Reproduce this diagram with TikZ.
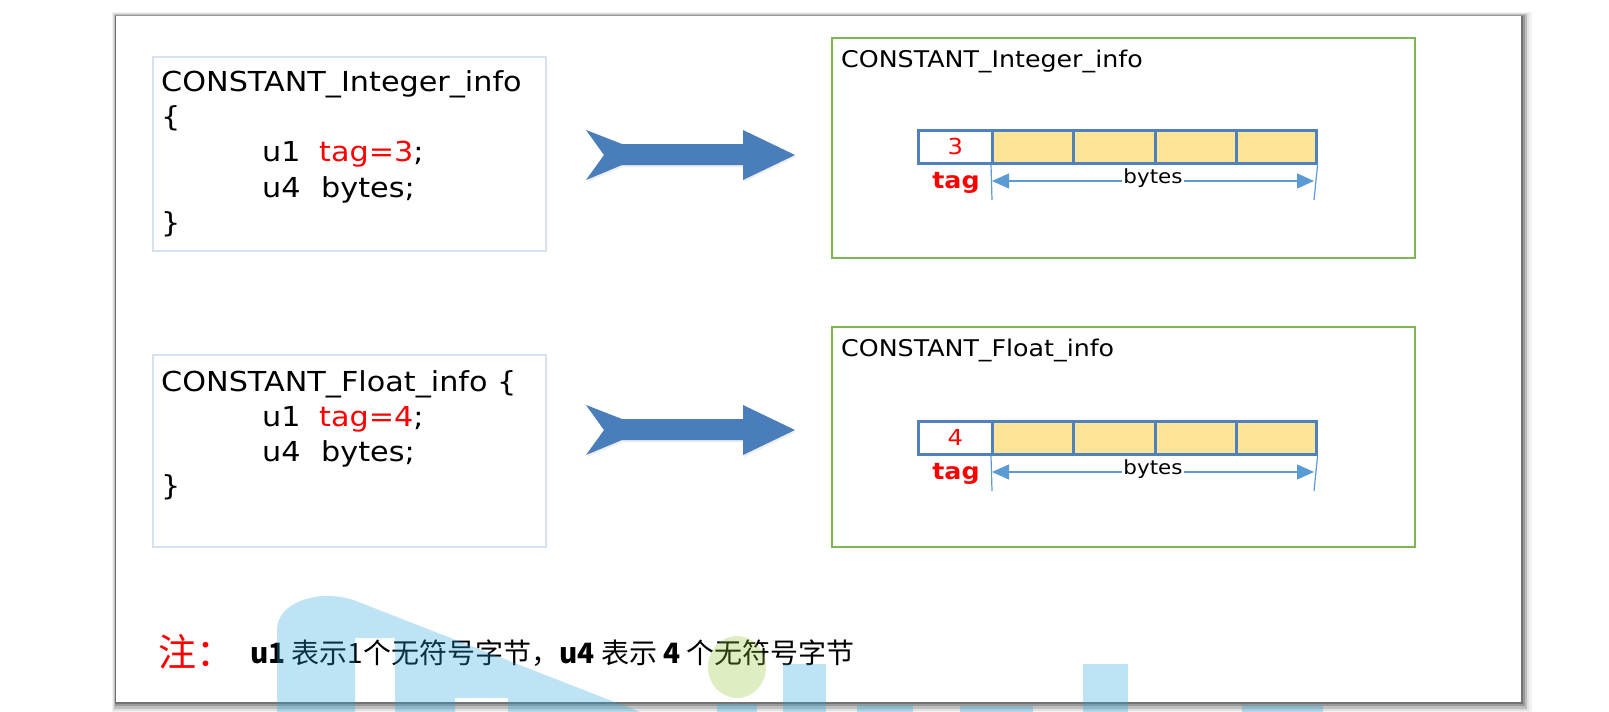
\documentclass[tikz,border=0pt]{standalone}
\usepackage{fontspec}
\setmainfont{DejaVu Sans}
\newfontfamily\codefont[FakeStretch=1.1]{DejaVu Sans}
\newfontfamily\cjkfont{Noto Sans CJK SC}
\usetikzlibrary{arrows.meta}
\definecolor{leftbd}{RGB}{214,226,240}
\definecolor{greenbd}{RGB}{125,182,82}
\definecolor{arrowblue}{RGB}{74,126,187}
\definecolor{cellbd}{RGB}{79,129,189}
\definecolor{cellfill}{RGB}{254,228,152}
\definecolor{dimblue}{RGB}{91,155,213}
\definecolor{pure}{RGB}{255,0,0}
\definecolor{wmblue}{RGB}{38,165,222}
\definecolor{wmgreen}{RGB}{152,198,58}
\tikzset{
  codebox/.style={draw=leftbd, line width=1.5pt, fill=white, anchor=north west, inner sep=0pt},
  greenbox/.style={draw=greenbd, line width=2pt, fill=white, anchor=north west, inner sep=0pt},
  code/.style={font=\codefont\fontsize{27.5}{33}\selectfont, anchor=base west, inner sep=0pt},
  title/.style={font=\codefont\fontsize{23}{28}\selectfont, anchor=base west, inner sep=0pt},
  tagcell/.style={draw=cellbd, line width=2.6pt, fill=white, minimum width=74pt, anchor=north west, inner sep=0pt, text=pure, font=\codefont\fontsize{22}{26}\selectfont},
  bytecell/.style={draw=cellbd, line width=2.6pt, fill=cellfill, anchor=north west, inner sep=0pt},
  taglabel/.style={font=\codefont\bfseries\fontsize{23}{28}\selectfont, text=pure, inner sep=0pt},
  dimline/.style={draw=dimblue, line width=1.2pt},
  dimarrow/.style={draw=dimblue, line width=1.2pt, {Triangle[length=17pt,width=15pt]}-{Triangle[length=17pt,width=15pt]}},
  byteslabel/.style={font=\codefont\fontsize{19.5}{24}\selectfont, fill=white, inner xsep=1pt, inner ysep=0pt},
  blockarrow/.style={fill=arrowblue},
}
\begin{document}
\begin{tikzpicture}[x=1pt,y=-1pt]
\useasboundingbox (0,0) rectangle (1609,712);
% outer frame with shadow
\fill[black!5] (112,12) rectangle (1532,712);
\fill[black!12] (113,13) rectangle (1529,711);
\fill[black!25] (114,14) rectangle (1527,709);
\fill[black!40] (114.5,15) rectangle (1524.5,706);
\fill[black!55] (115,15.5) rectangle (1523,704);
\fill[white] (115.5,16) rectangle (1521,702);

% ---------- left boxes ----------
\node[codebox, minimum width=393pt, minimum height=194pt] (lb1) at (152,56) {};
\node[code] (l1a) at (161,91) {CONSTANT\_Integer\_info};
\node[code] (l1b) at (161,126) {\{};
\node[code] (l1c) at (262,161) {u1};
\node[code] (l1d) at (319,161) {\textcolor{pure}{tag=3};};
\node[code] (l1e) at (262,197) {u4};
\node[code] (l1f) at (321,197) {bytes;};
\node[code] (l1g) at (161,232) {\}};

\node[codebox, minimum width=393pt, minimum height=192pt] (lb2) at (152,354) {};
\node[code] (l2a) at (161,391) {CONSTANT\_Float\_info \{};
\node[code] (l2c) at (262,426) {u1};
\node[code] (l2d) at (319,426) {\textcolor{pure}{tag=4};};
\node[code] (l2e) at (262,461) {u4};
\node[code] (l2f) at (321,461) {bytes;};
\node[code] (l2g) at (161,495) {\}};

% ---------- block arrows ----------
\foreach \dy in {0, 275}{
  \begin{scope}[yshift=-\dy pt]
    \fill[black!7] (587,131.5) -- (623,146) -- (744,146) -- (744,131.5) -- (796.5,156.5) -- (744,182) -- (744,167) -- (623,167) -- (587,182) -- (605,156.5) -- cycle;
    \fill[blockarrow] (586,130) -- (622,144) -- (743,144) -- (743,130) -- (795,155) -- (743,180) -- (743,165) -- (622,165) -- (586,180) -- (604,155) -- cycle;
  \end{scope}
}

% ---------- right boxes ----------
\node[greenbox, minimum width=583pt, minimum height=220pt] (rb1) at (831,37) {};
\node[title] (rt1) at (841,67) {CONSTANT\_Integer\_info};
\node[tagcell, minimum height=33pt] (tag1) at (917,129) {3};
\node[bytecell, minimum width=81pt, minimum height=33pt] (b11) at (991,129) {};
\node[bytecell, minimum width=82pt, minimum height=33pt] (b12) at (1072,129) {};
\node[bytecell, minimum width=81pt, minimum height=33pt] (b13) at (1154,129) {};
\node[bytecell, minimum width=80pt, minimum height=33pt] (b14) at (1235,129) {};
\node[taglabel] (tl1) at (956,183) {tag};
\coordinate (d1a) at (992,200);
\coordinate (d1b) at (1314,200);
\draw[dimline] (b11.south west) -- (d1a);
\draw[dimline] (b14.south east) -- (d1b);
\coordinate (d1l) at (992,181);
\coordinate (d1r) at (1314,181);
\draw[dimarrow] (d1l) -- (d1r);
\node[byteslabel] (by1) at (1153,178) {bytes};

\node[greenbox, minimum width=583pt, minimum height=220pt] (rb2) at (831,326) {};
\node[title] (rt2) at (841,356) {CONSTANT\_Float\_info};
\node[tagcell, minimum height=33pt] (tag2) at (917,420) {4};
\node[bytecell, minimum width=81pt, minimum height=33pt] (b21) at (991,420) {};
\node[bytecell, minimum width=82pt, minimum height=33pt] (b22) at (1072,420) {};
\node[bytecell, minimum width=81pt, minimum height=33pt] (b23) at (1154,420) {};
\node[bytecell, minimum width=80pt, minimum height=33pt] (b24) at (1235,420) {};
\node[taglabel] (tl2) at (956,474) {tag};
\coordinate (d2a) at (992,491);
\coordinate (d2b) at (1314,491);
\draw[dimline] (b21.south west) -- (d2a);
\draw[dimline] (b24.south east) -- (d2b);
\coordinate (d2l) at (992,472);
\coordinate (d2r) at (1314,472);
\draw[dimarrow] (d2l) -- (d2r);
\node[byteslabel] (by2) at (1153,469) {bytes};

% ---------- note ----------
\node[font=\cjkfont\fontsize{38}{44}\selectfont, text=pure, anchor=base west, inner sep=0pt] (zhu) at (158,666) {注：};
\node[font=\cjkfont\fontsize{28}{34}\selectfont, anchor=base west, inner sep=0pt] (note) at (250,663)
  {\textbf{u1} 表示1个无符号字节，\textbf{u4} 表示 \textbf{4} 个无符号字节};

% ---------- watermark ----------
\fill[wmblue, opacity=0.3, even odd rule]
  (277,712) -- (277,628) .. controls (279,606) and (305,596) .. (327,596)
  .. controls (340,596) and (348,598) .. (356,601) -- (640,712) -- cycle
  (355,638) rectangle (395,712)
  (455,698) rectangle (508,712);
\fill[wmgreen, opacity=0.3] (737,667) ellipse [x radius=29, y radius=31];
\fill[wmblue, opacity=0.3] (783,664) rectangle (826,712);
\fill[wmblue, opacity=0.3] (1083,664) rectangle (1128,712);
\fill[wmblue, opacity=0.3] (717,704) rectangle (757,712);
\fill[wmblue, opacity=0.3] (857,705) rectangle (913,712);
\fill[wmblue, opacity=0.3] (960,706) rectangle (1033,712);
\fill[wmblue, opacity=0.3] (1242,705) rectangle (1323,712);
\end{tikzpicture}
\end{document}
